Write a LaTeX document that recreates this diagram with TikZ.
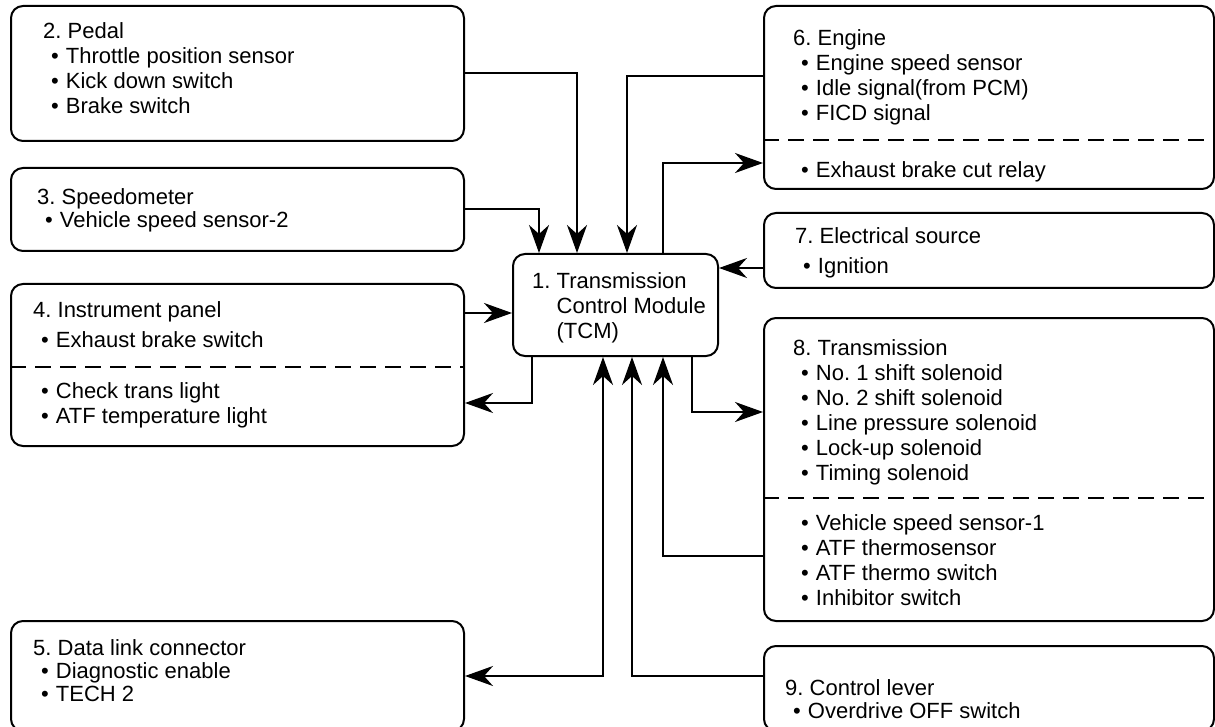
\documentclass[tikz,border=0pt]{standalone}
\usepackage{fontspec}
\setmainfont{Liberation Sans}
\usetikzlibrary{arrows.meta}
\frenchspacing
\newcommand{\itm}[1]{\hspace*{8pt}\textbullet\hspace{7pt}#1}

\begin{document}
\begin{tikzpicture}[x=1pt,y=-1pt,
    blk/.style={draw,line width=2pt,rounded corners=12pt,anchor=north west,inner sep=0pt},
    txt/.style={anchor=north west,align=left,inner sep=0pt,font=\fontsize{22}{25}\selectfont},
    sig/.style={line width=2pt,>={Stealth[length=28pt,width=20pt,inset=9pt]},->},
    cut/.style={line width=1.6pt,dash pattern=on 16pt off 9pt}]
    \path[use as bounding box,fill=white] (0,0) rectangle (1215,727);

    % boxes
    \node[blk,minimum width=453,minimum height=135] (pedal) at (10,5) {};
    \node[blk,minimum width=453,minimum height=83] (speedo) at (10,167) {};
    \node[blk,minimum width=453,minimum height=162] (panel) at (10,283) {};
    \node[blk,minimum width=453,minimum height=110] (dlc) at (10,620) {};
    \node[blk,minimum width=205,minimum height=102] (tcm) at (512,253) {};
    \node[blk,minimum width=450,minimum height=183] (engine) at (763,5) {};
    \node[blk,minimum width=450,minimum height=75] (power) at (763,212) {};
    \node[blk,minimum width=450,minimum height=303] (trans) at (763,317) {};
    \node[blk,minimum width=450,minimum height=85] (lever) at (763,645) {};

    % texts
    \node[txt] (pedal-t) at (43,22) {2. Pedal\\\itm{Throttle position sensor}\\\itm{Kick down switch}\\\itm{Brake switch}};
    \node[txt] (speedo-t) at (37,188) {3. Speedometer\\[-2pt]\itm{Vehicle speed sensor-2}};
    \node[txt] (panel-t) at (33,301) {4. Instrument panel\\[5pt]\itm{Exhaust brake switch}\\[26pt]\itm{Check trans light}\\\itm{ATF temperature light}};
    \node[txt] (dlc-t) at (33,639) {5. Data link connector\\[-2pt]\itm{Diagnostic enable}\\[-2pt]\itm{TECH 2}};
    \node[txt] (tcm-t) at (532,272) {1. Transmission\\\hphantom{1.\ }Control Module\\\hphantom{1.\ }(TCM)};
    \node[txt] (engine-t) at (793,29) {6. Engine\\\itm{Engine speed sensor}\\\itm{Idle signal(from PCM)}\\\itm{FICD signal}\\[32pt]\itm{Exhaust brake cut relay}};
    \node[txt] (power-t) at (795,227) {7. Electrical source\\[5pt]\itm{Ignition}};
    \node[txt] (trans-t) at (793,339) {8. Transmission\\\itm{No. 1 shift solenoid}\\\itm{No. 2 shift solenoid}\\\itm{Line pressure solenoid}\\\itm{Lock-up solenoid}\\\itm{Timing solenoid}\\[25pt]\itm{Vehicle speed sensor-1}\\\itm{ATF thermosensor}\\\itm{ATF thermo switch}\\\itm{Inhibitor switch}};
    \node[txt] (lever-t) at (785,679) {9. Control lever\\[-2pt]\itm{Overdrive OFF switch}};

    % dashed dividers
    \draw[cut] (panel.west |- 0,367) -- (panel.east |- 0,367);
    \draw[cut] (engine.west |- 0,140) -- (engine.east |- 0,140);
    \draw[cut] (trans.west |- 0,498) -- (trans.east |- 0,498);

    % signals
    \draw[sig] (pedal.east |- 0,73) -| (577,0 |- tcm.north);
    \draw[sig] (speedo.east |- 0,209) -| (539,0 |- tcm.north);
    \draw[sig] (engine.west |- 0,76) -| (627,0 |- tcm.north);
    \draw[sig] (663,0 |- tcm.north) |- (engine.west |- 0,163);
    \draw[sig] (power.west |- 0,268) -- (tcm.east |- 0,268);
    \draw[sig] (panel.east |- 0,313) -- (tcm.west |- 0,313);
    \draw[sig] (532,0 |- tcm.south) |- (panel.east |- 0,403);
    \draw[sig] (692,0 |- tcm.south) |- (trans.west |- 0,412);
    \draw[sig,<->] (603,0 |- tcm.south) |- (dlc.east |- 0,676);
    \draw[sig] (lever.west |- 0,676) -| (632,0 |- tcm.south);
    \draw[sig] (trans.west |- 0,556) -| (663,0 |- tcm.south);
\end{tikzpicture}
\end{document}
